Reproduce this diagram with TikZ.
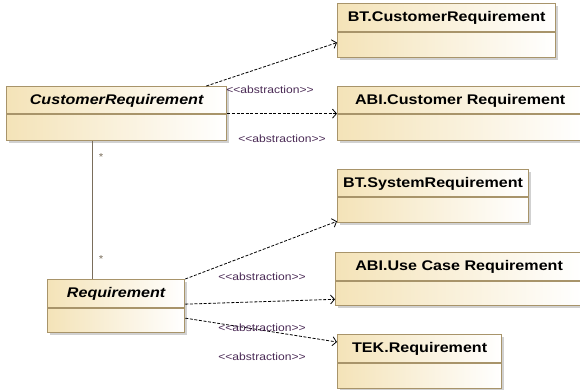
\documentclass[tikz,border=0pt]{standalone}
\usepackage{fontspec}
\setmainfont{Liberation Sans}[FakeStretch=1.15]
\usetikzlibrary{arrows.meta,shadows}
\definecolor{boxline}{HTML}{A8946A}
\definecolor{boxtan}{HTML}{F4E3B8}
\definecolor{assocline}{HTML}{7A6E5C}
\definecolor{stereo}{HTML}{4A2A55}
\begin{document}
\begin{tikzpicture}[x=1pt,y=-1pt]
	\tikzset{classbox/.style={draw=boxline, line width=1.3pt, left color=boxtan, right color=white, minimum height=54pt, inner sep=0pt, anchor=north west, drop shadow={shadow xshift=2pt, shadow yshift=-2pt, fill=black!30, opacity=0.6}}}
	\tikzset{classname/.style={font=\fontsize{14}{16}\selectfont\bfseries, inner sep=0pt}}
	\tikzset{divider/.style={draw=boxline, line width=1.1pt}}
	\tikzset{abstr/.style={draw=black, line width=0.8pt, dash pattern=on 3pt off 1.6pt, -{Straight Barb[length=4pt,width=9pt]}}}
	\tikzset{stlabel/.style={font=\fontsize{10.5}{12}\selectfont, text=stereo, inner sep=0pt}}
	\useasboundingbox (0,0) rectangle (580,390);
	
	% Draw the classes
	\node[classbox, minimum width=218pt] (btc) at (337,3) {};
	\node[classbox, minimum width=220pt] (crq) at (6,86) {};
	\node[classbox, minimum width=245pt] (abc) at (337,86) {};
	\node[classbox, minimum width=191pt, minimum height=53pt] (bts) at (337,169) {};
	\node[classbox, minimum width=137pt, minimum height=53pt] (req) at (47,279) {};
	\node[classbox, minimum width=247pt, minimum height=53pt] (abu) at (335,252) {};
	\node[classbox, minimum width=164pt] (tek) at (337,334) {};
	
	\draw[divider] ([yshift=-29pt]btc.north west) -- ([yshift=-29pt]btc.north east);
	\draw[divider] ([yshift=-28pt]crq.north west) -- ([yshift=-28pt]crq.north east);
	\draw[divider] ([yshift=-28pt]abc.north west) -- ([yshift=-28pt]abc.north east);
	\draw[divider] ([yshift=-28pt]bts.north west) -- ([yshift=-28pt]bts.north east);
	\draw[divider] ([yshift=-29pt]req.north west) -- ([yshift=-29pt]req.north east);
	\draw[divider] ([yshift=-29pt]abu.north west) -- ([yshift=-29pt]abu.north east);
	\draw[divider] ([yshift=-29pt]tek.north west) -- ([yshift=-29pt]tek.north east);
	
	\node[classname] (btct) at ([yshift=-15pt]btc.north) {BT.CustomerRequirement};
	\node[classname] (crqt) at ([yshift=-15pt]crq.north) {\itshape CustomerRequirement};
	\node[classname] (abct) at ([yshift=-15pt]abc.north) {ABI.Customer Requirement};
	\node[classname] (btst) at ([yshift=-15pt]bts.north) {BT.SystemRequirement};
	\node[classname] (reqt) at ([yshift=-15pt]req.north) {\itshape Requirement};
	\node[classname] (abut) at ([yshift=-15pt]abu.north) {ABI.Use Case Requirement};
	\node[classname] (tekt) at ([yshift=-15pt]tek.north) {TEK.Requirement};
	
	% Association
	\draw[assocline, line width=1.3pt] ([xshift=-24pt]crq.south) -- ([xshift=-24pt]crq.south |- req.north);
	\node[font=\fontsize{10}{11}\selectfont, text=assocline] (m1) at (101,157) {*};
	\node[font=\fontsize{10}{11}\selectfont, text=assocline] (m2) at (101,259) {*};
	
	% Abstractions
	\draw[abstr] ([xshift=-21pt]crq.north east) -- ([yshift=-12pt]btc.west);
	\draw[abstr] (crq.east) -- (abc.west);
	\draw[abstr] (req.north east) -- ([yshift=2pt]bts.south west);
	\draw[abstr] ([yshift=2pt]req.east) -- ([yshift=7pt]abu.south west);
	\draw[abstr] ([yshift=-12pt]req.east) -- ([yshift=-8pt]tek.north west);
	
	\node[stlabel] (lab1) at (270,90) {<\kern0pt<abstraction>\kern0pt>};
	\node[stlabel] (lab2) at (282,139) {<\kern0pt<abstraction>\kern0pt>};
	\node[stlabel] (lab3) at (262,277) {<\kern0pt<abstraction>\kern0pt>};
	\node[stlabel] (lab4) at (262,328) {<\kern0pt<abstraction>\kern0pt>};
	\node[stlabel] (lab5) at (262,357) {<\kern0pt<abstraction>\kern0pt>};
\end{tikzpicture}
\end{document}
